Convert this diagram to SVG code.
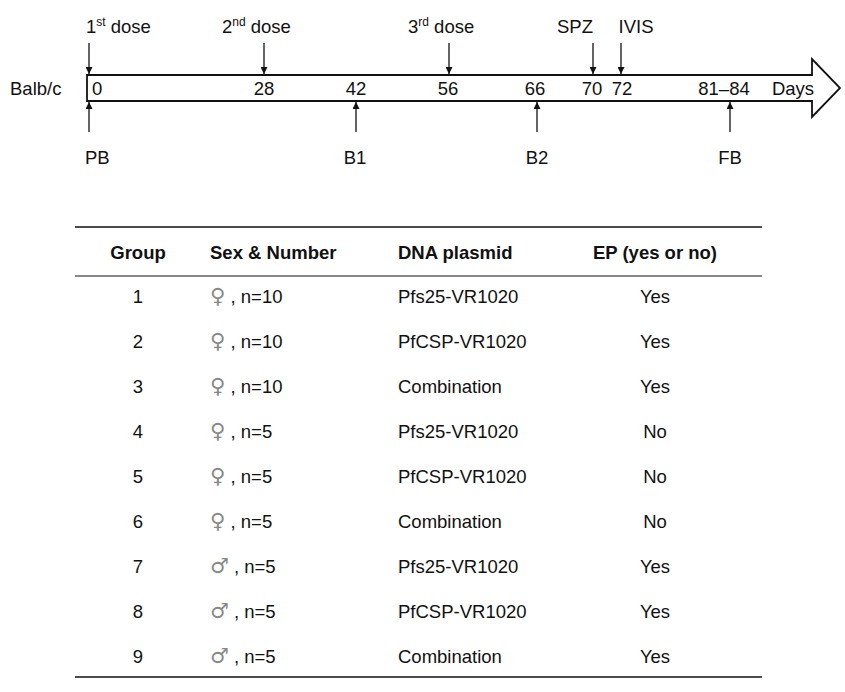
<svg xmlns="http://www.w3.org/2000/svg" width="845" height="692" viewBox="0 0 845 692">
<style>
text{font-family:"Liberation Sans",Arial,sans-serif;font-size:18.5px;fill:#111}
.c{text-anchor:middle}
.h{font-weight:bold}
.ln{stroke:#111;stroke-width:1.3;fill:none}
.sym{fill:#888;font-family:"DejaVu Sans",sans-serif;font-size:21px}
</style>
<defs><marker id="a" viewBox="0 0 10 10" refX="10" refY="5" markerWidth="7" markerHeight="7" orient="auto" markerUnits="userSpaceOnUse"><path d="M0,0L10,5L0,10z" fill="#111"/></marker></defs>
<rect width="845" height="692" fill="#fff"/>
<g id="timeline">
<path d="M87,75H812V59L840,88L812,117V101H87Z" fill="#fff" stroke="#111" stroke-width="1.8"/>
<text x="10" y="95">Balb/c</text>
<text x="92" y="95">0</text>
<text x="264" y="95" class="c">28</text>
<text x="356" y="95" class="c">42</text>
<text x="448" y="95" class="c">56</text>
<text x="535" y="95" class="c">66</text>
<text x="592" y="95" class="c">70</text>
<text x="622" y="95" class="c">72</text>
<text x="724" y="95" class="c">81–84</text>
<text x="793" y="95" class="c">Days</text>
<text x="86" y="33">1<tspan font-size="12" dy="-7">st</tspan><tspan dy="7"> dose</tspan></text>
<text x="222" y="33">2<tspan font-size="12" dy="-7">nd</tspan><tspan dy="7"> dose</tspan></text>
<text x="408" y="33">3<tspan font-size="12" dy="-7">rd</tspan><tspan dy="7"> dose</tspan></text>
<text x="575" y="33" class="c">SPZ</text>
<text x="636" y="33" class="c">IVIS</text>
<text x="85" y="164">PB</text>
<text x="355" y="164" class="c">B1</text>
<text x="537" y="164" class="c">B2</text>
<text x="730" y="164" class="c">FB</text>
</g>
<g id="connectors">
<line class="ln" x1="89" y1="43" x2="89" y2="74" marker-end="url(#a)"/>
<line class="ln" x1="264" y1="43" x2="264" y2="74" marker-end="url(#a)"/>
<line class="ln" x1="449" y1="43" x2="449" y2="74" marker-end="url(#a)"/>
<line class="ln" x1="593" y1="43" x2="593" y2="74" marker-end="url(#a)"/>
<line class="ln" x1="621" y1="43" x2="621" y2="74" marker-end="url(#a)"/>
<line class="ln" x1="89" y1="132" x2="89" y2="102" marker-end="url(#a)"/>
<line class="ln" x1="356" y1="132" x2="356" y2="102" marker-end="url(#a)"/>
<line class="ln" x1="537" y1="132" x2="537" y2="102" marker-end="url(#a)"/>
<line class="ln" x1="730" y1="132" x2="730" y2="102" marker-end="url(#a)"/>
</g>
<g id="table">
<line x1="75" y1="227" x2="762" y2="227" stroke="#111" stroke-width="1.5"/>
<line x1="75" y1="276" x2="762" y2="276" stroke="#111" stroke-width="1.2"/>
<line x1="75" y1="677" x2="762" y2="677" stroke="#111" stroke-width="1.5"/>
<text x="138" y="259" class="c h">Group</text>
<text x="210" y="259" class="h">Sex &amp; Number</text>
<text x="398" y="259" class="h">DNA plasmid</text>
<text x="655" y="259" class="c h">EP (yes or no)</text>
<g id="r1"><text x="138" y="303" class="c">1</text><text x="210" y="303"><tspan class="sym">♀</tspan> , n=10</text><text x="398" y="303">Pfs25-VR1020</text><text x="655" y="303" class="c">Yes</text></g>
<g id="r2"><text x="138" y="348" class="c">2</text><text x="210" y="348"><tspan class="sym">♀</tspan> , n=10</text><text x="398" y="348">PfCSP-VR1020</text><text x="655" y="348" class="c">Yes</text></g>
<g id="r3"><text x="138" y="393" class="c">3</text><text x="210" y="393"><tspan class="sym">♀</tspan> , n=10</text><text x="398" y="393">Combination</text><text x="655" y="393" class="c">Yes</text></g>
<g id="r4"><text x="138" y="438" class="c">4</text><text x="210" y="438"><tspan class="sym">♀</tspan> , n=5</text><text x="398" y="438">Pfs25-VR1020</text><text x="655" y="438" class="c">No</text></g>
<g id="r5"><text x="138" y="483" class="c">5</text><text x="210" y="483"><tspan class="sym">♀</tspan> , n=5</text><text x="398" y="483">PfCSP-VR1020</text><text x="655" y="483" class="c">No</text></g>
<g id="r6"><text x="138" y="528" class="c">6</text><text x="210" y="528"><tspan class="sym">♀</tspan> , n=5</text><text x="398" y="528">Combination</text><text x="655" y="528" class="c">No</text></g>
<g id="r7"><text x="138" y="573" class="c">7</text><text x="210" y="573"><tspan class="sym">♂</tspan> , n=5</text><text x="398" y="573">Pfs25-VR1020</text><text x="655" y="573" class="c">Yes</text></g>
<g id="r8"><text x="138" y="618" class="c">8</text><text x="210" y="618"><tspan class="sym">♂</tspan> , n=5</text><text x="398" y="618">PfCSP-VR1020</text><text x="655" y="618" class="c">Yes</text></g>
<g id="r9"><text x="138" y="663" class="c">9</text><text x="210" y="663"><tspan class="sym">♂</tspan> , n=5</text><text x="398" y="663">Combination</text><text x="655" y="663" class="c">Yes</text></g>
</g>
</svg>
